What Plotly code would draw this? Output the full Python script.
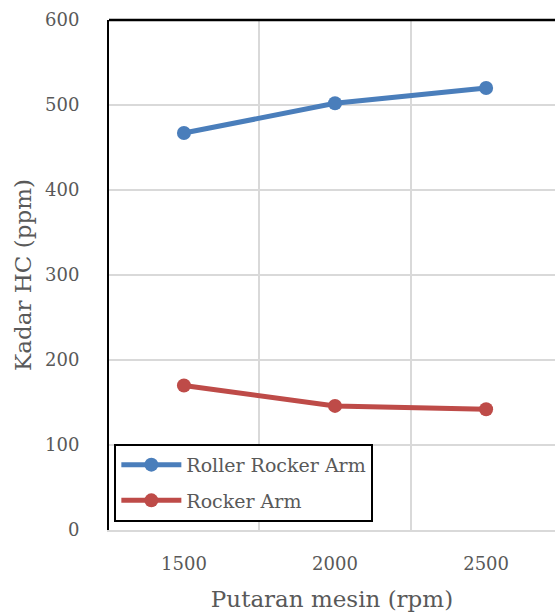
import plotly.graph_objects as go

# Engine speed (rpm) and HC concentration (ppm)
rpm = [1500, 2000, 2500]
roller_rocker_arm = [467, 502, 520]
rocker_arm = [170, 146, 142]

series_names = ["Roller Rocker Arm", "Rocker Arm"]
series_colors = ["#4A7EBB", "#BE4B48"]

FONT = "DejaVu Serif"
TEXT = "#595959"

fig = go.Figure()
for name, vals, col in zip(series_names, [roller_rocker_arm, rocker_arm], series_colors):
    fig.add_trace(go.Scatter(
        x=rpm, y=vals, name=name, legendgroup=name,
        mode="lines+markers",
        line=dict(color=col, width=5),
        marker=dict(color=col, size=14),
    ))

fig.update_layout(
    width=555, height=614,
    margin=dict(l=109, r=0, t=20, b=84),
    paper_bgcolor="white", plot_bgcolor="white",
    font=dict(family=FONT, color=TEXT, size=18),
    showlegend=True,
    legend=dict(
        x=0.012, y=0.169, xanchor="left", yanchor="top",
        bordercolor="black", borderwidth=2,
        bgcolor="white",
        font=dict(family=FONT, size=19, color=TEXT),
        itemwidth=60, tracegroupgap=8,
    ),
    xaxis=dict(
        range=[1252, 2728],
        tickvals=rpm, ticktext=[str(v) for v in rpm],
        tickfont=dict(family=FONT, size=18, color=TEXT),
        showgrid=False, zeroline=False,
        showline=True, linecolor="#D9D9D9", linewidth=2,
        ticks="outside", ticklen=16, tickcolor="rgba(0,0,0,0)",
        minor=dict(tickvals=[1750, 2250], showgrid=True,
                   gridcolor="#D9D9D9", gridwidth=2),
        title=dict(text="Putaran mesin (rpm)",
                   font=dict(family=FONT, size=23, color=TEXT), standoff=18),
        fixedrange=True,
    ),
    yaxis=dict(
        range=[0, 600], dtick=100,
        tickfont=dict(family=FONT, size=18, color=TEXT),
        showgrid=True, gridcolor="#D9D9D9", gridwidth=2,
        zeroline=False,
        showline=True, linecolor="black", linewidth=2,
        ticks="outside", ticklen=24, tickcolor="rgba(0,0,0,0)",
        title=dict(text="Kadar HC (ppm)",
                   font=dict(family=FONT, size=23, color=TEXT), standoff=7),
    ),
)

# top border of the plotting area
fig.add_shape(type="line", xref="paper", yref="paper",
              x0=0, x1=1, y0=1, y1=1,
              line=dict(color="black", width=2.5))

fig.write_html("out.html")
